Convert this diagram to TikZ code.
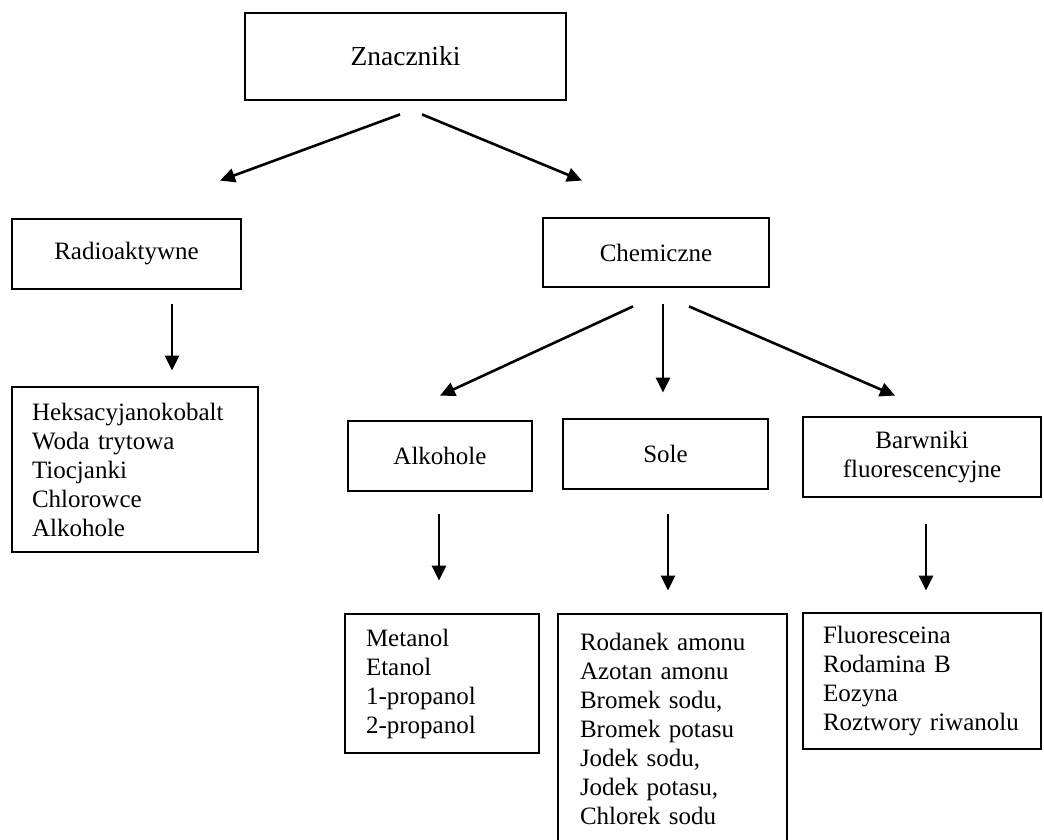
\documentclass[tikz,border=0pt]{standalone}
\usepackage{fontspec}
\setmainfont{Liberation Serif}
\usetikzlibrary{arrows.meta,calc}
\begin{document}
\begin{tikzpicture}[x=1pt,y=-1pt,
  box/.style={draw,line width=2.8pt,inner sep=0pt,font=\fontsize{25}{29}\selectfont},
  listbox/.style={box,align=left},
  conn/.style={line width=2.6pt,-{Triangle[length=15pt,width=14pt]}}]
\useasboundingbox (0,0) rectangle (1044,839);
\clip (0,0) rectangle (1044,839);
\node[box,minimum width=321pt,minimum height=87pt,font=\fontsize{27.5}{32}\selectfont] (zn) at (405.5,56.5) {Znaczniki};
\node[box,minimum width=229pt,minimum height=70pt] (radio) at (126.5,254) {Radioaktywne};
\node[box,minimum width=226pt,minimum height=69pt] (chem) at (656,252.5) {Chemiczne};
\node[box,minimum width=184pt,minimum height=70pt] (alk) at (440,456) {Alkohole};
\node[box,minimum width=205pt,minimum height=70pt] (sole) at (665.5,454) {Sole};
\node[box,align=center,minimum width=238pt,minimum height=80pt] (barw) at (922,457) {Barwniki\\fluorescencyjne};
\node[listbox,text width=206pt,minimum width=246pt,minimum height=165pt] (radioL) at (135,469.5)
  {Heksacyjanokobalt\\Woda trytowa\\Tiocjanki\\Chlorowce\\Alkohole};
\node[listbox,text width=152pt,minimum width=194pt,minimum height=139pt] (alkL) at (442,683.5)
  {Metanol\\Etanol\\1-propanol\\2-propanol};
\node[listbox,text width=185pt,minimum width=229pt,minimum height=229pt] (soleL) at (672.5,728.5)
  {Rodanek amonu\\Azotan amonu\\Bromek sodu,\\Bromek potasu\\Jodek sodu,\\Jodek potasu,\\Chlorek sodu};
\node[listbox,text width=198pt,minimum width=238pt,minimum height=136pt] (barwL) at (922,681)
  {Fluoresceina\\Rodamina B\\Eozyna\\Roztwory riwanolu};
\draw[conn] ($(zn.south)+(-5.5,13)$) -- ($(radio.north)+(93.5,-37)$);
\draw[conn] ($(zn.south)+(16.5,13)$) -- ($(chem.north)+(-74,-36)$);
\draw[conn] ($(radio.south)+(45.5,14)$) -- ($(radioL.north)+(37,-15)$);
\draw[conn] ($(chem.south)+(-23,18)$) -- ($(alk.north)+(0,-24)$);
\draw[conn] ($(chem.south)+(7,16)$) -- ($(sole.north)+(-2.5,-25)$);
\draw[conn] ($(chem.south)+(33,18)$) -- ($(barw.north)+(-27,-20)$);
\draw[conn] ($(alk.south)+(-1,22)$) -- ($(alkL.north)+(-3,-32)$);
\draw[conn] ($(sole.south)+(2.5,24)$) -- ($(soleL.north)+(-4.5,-22)$);
\draw[conn] ($(barw.south)+(4,26)$) -- ($(barwL.north)+(4,-21)$);
\end{tikzpicture}
\end{document}
